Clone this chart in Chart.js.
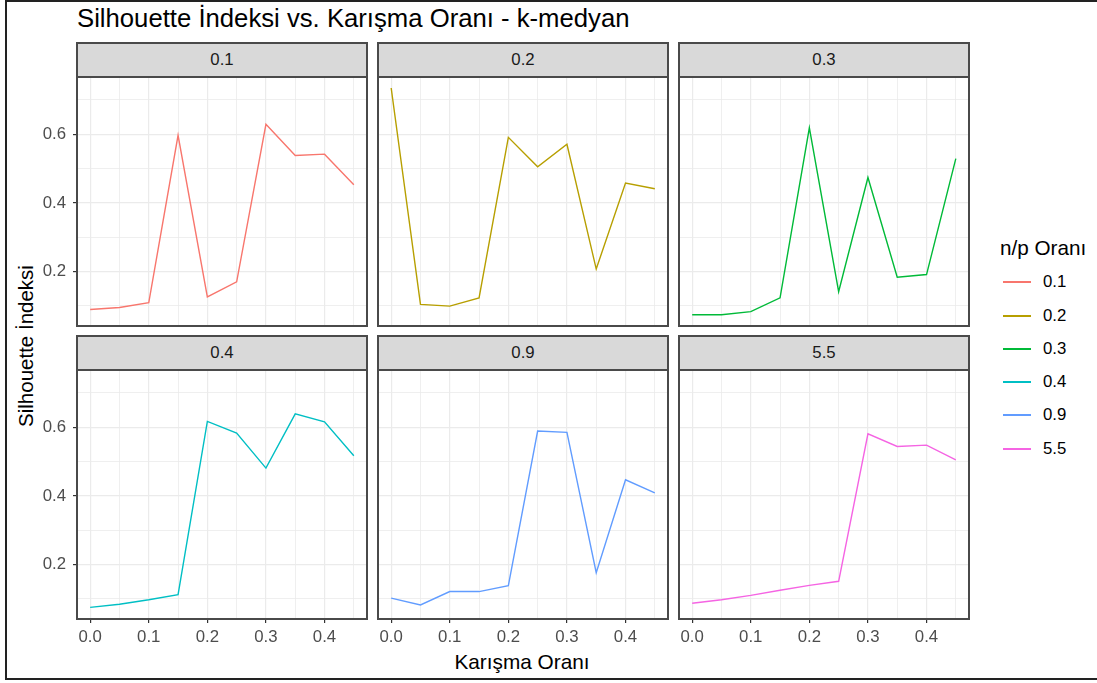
<!DOCTYPE html>
<html><head><meta charset="utf-8">
<script src="https://cdn.jsdelivr.net/npm/chart.js@4.4.1/dist/chart.umd.min.js"></script>
<style>
html,body{margin:0;padding:0;background:#fff;}
body{width:1097px;height:683px;position:relative;overflow:hidden;font-family:"Liberation Sans",Arial,sans-serif;}
.abs{position:absolute;}
.strip{position:absolute;background:#D9D9D9;border:2px solid #4a4a4a;box-sizing:border-box;display:flex;align-items:center;justify-content:center;color:#1A1A1A;font-size:16.8px;}
.frame{position:absolute;border:2px solid #4a4a4a;box-sizing:border-box;pointer-events:none;}
.txt{position:absolute;white-space:nowrap;line-height:1;}
</style></head><body>
<div class="abs" style="left:5px;top:0;width:1200px;height:680px;border:2px solid #222;box-sizing:border-box;"></div>
<div class="txt" id="title" style="left:77px;top:5.5px;font-size:25.7px;color:#000;">Silhouette İndeksi vs. Karışma Oranı - k-medyan</div>
<div class="txt" style="left:26px;top:346px;font-size:20.5px;color:#000;transform:translate(-50%,-50%) rotate(-90deg);">Silhouette İndeksi</div>
<div class="txt" style="left:522px;top:662px;font-size:20.8px;color:#000;transform:translate(-50%,-50%);">Karışma Oranı</div>
<div id="root"></div>
<script>
// n/p ratio categories (facets / legend)
const npRatios = ['0.1', '0.2', '0.3', '0.4', '0.9', '5.5'];
// x values: mixing ratio
const mixRatios = [0, 0.05, 0.1, 0.15, 0.2, 0.25, 0.3, 0.35, 0.4, 0.45];
// silhouette index per n/p ratio
const sil_01 = [0.089, 0.095, 0.109, 0.597, 0.126, 0.170, 0.629, 0.538, 0.542, 0.453];
const sil_02 = [0.735, 0.104, 0.099, 0.123, 0.591, 0.505, 0.571, 0.207, 0.458, 0.441];
const sil_03 = [0.074, 0.074, 0.083, 0.123, 0.619, 0.141, 0.474, 0.183, 0.191, 0.529];
const sil_04 = [0.075, 0.084, 0.097, 0.112, 0.617, 0.583, 0.481, 0.639, 0.616, 0.517];
const sil_09 = [0.102, 0.082, 0.121, 0.121, 0.138, 0.589, 0.585, 0.176, 0.447, 0.409];
const sil_55 = [0.087, 0.097, 0.110, 0.125, 0.139, 0.151, 0.581, 0.544, 0.548, 0.505];
// tick labels
const xMajorTicks = [0, 0.1, 0.2, 0.3, 0.4];
const xMinorTicks = [0.05, 0.15, 0.25, 0.35, 0.45];
const yMajorTicks = [0.2, 0.4, 0.6];
const yMinorTicks = [0.1, 0.3, 0.5, 0.7];

const seriesList = [sil_01, sil_02, sil_03, sil_04, sil_09, sil_55];
const colors = ['#F8766D', '#B79F00', '#00BA38', '#00BFC4', '#619CFF', '#F564E3'];

const X_MIN = -0.0225, X_MAX = 0.4725;
const Y_MIN = 0.041, Y_MAX = 0.767;
const colLeft = [77, 378, 679];
const stripTop = [43, 336];
const STRIP_H = 34, PLOT_W = 290, PLOT_H = 249;
const Y_W = 45, X_H = 36;
const FONT = '"Liberation Sans", Arial, sans-serif';

const root = document.getElementById('root');

function el(cls, style, text) {
  const d = document.createElement('div');
  d.className = cls;
  Object.assign(d.style, style);
  if (text !== undefined) d.textContent = text;
  root.appendChild(d);
  return d;
}

npRatios.forEach((cat, i) => {
  const col = i % 3, row = Math.floor(i / 3);
  const showY = col === 0, showX = row === 1;
  const plotL = colLeft[col];
  const plotT = stripTop[row] + STRIP_H;
  // strip
  el('strip', {left: (plotL - 1) + 'px', top: (stripTop[row] - 1) + 'px', width: (PLOT_W + 2) + 'px', height: (STRIP_H + 2) + 'px'}, cat);
  // canvas
  const cw = PLOT_W + (showY ? Y_W : 0);
  const ch = PLOT_H + (showX ? X_H : 0);
  const wrap = el('abs', {left: (plotL - (showY ? Y_W : 0)) + 'px', top: plotT + 'px', width: cw + 'px', height: ch + 'px'});
  const cv = document.createElement('canvas');
  cv.width = cw; cv.height = ch;
  cv.style.width = cw + 'px'; cv.style.height = ch + 'px';
  wrap.appendChild(cv);
  // frame
  el('frame', {left: (plotL - 1) + 'px', top: (plotT - 1) + 'px', width: (PLOT_W + 2) + 'px', height: (PLOT_H + 2) + 'px'});

  const xTicks = [...xMajorTicks, ...xMinorTicks].sort((a, b) => a - b);
  const yTicks = [...yMajorTicks, ...yMinorTicks].sort((a, b) => a - b);
  const isXMaj = v => xMajorTicks.includes(v);
  const isYMaj = v => yMajorTicks.includes(v);

  new Chart(cv, {
    type: 'line',
    data: {
      datasets: [{
        label: cat,
        data: mixRatios.map((x, k) => ({x: x, y: seriesList[i][k]})),
        borderColor: colors[i],
        backgroundColor: colors[i],
        borderWidth: 1.4,
        pointRadius: 0,
        tension: 0,
        fill: false
      }]
    },
    options: {
      responsive: false,
      animation: false,
      devicePixelRatio: 1,
      layout: {padding: 0},
      plugins: {legend: {display: false}, tooltip: {enabled: false}},
      scales: {
        x: {
          type: 'linear', min: X_MIN, max: X_MAX,
          afterBuildTicks: s => { s.ticks = xTicks.map(v => ({value: v})); },
          afterFit: s => { s.height = showX ? X_H : 0; s.paddingLeft = 0; s.paddingRight = 0; s.paddingTop = 0; s.paddingBottom = 0; },
          border: {display: false},
          grid: {
            color: '#EBEBEB',
            lineWidth: c => (c.tick && isXMaj(c.tick.value)) ? 1.2 : 0.8,
            drawTicks: showX, tickLength: 4, tickWidth: 1.2,
            tickColor: c => (c.tick && isXMaj(c.tick.value)) ? '#333333' : 'rgba(0,0,0,0)'
          },
          ticks: {
            display: showX, autoSkip: false, maxRotation: 0, minRotation: 0, padding: 4,
            color: '#4D4D4D', font: {family: FONT, size: 16.8},
            callback: v => isXMaj(v) ? v.toFixed(1) : ''
          }
        },
        y: {
          type: 'linear', min: Y_MIN, max: Y_MAX,
          afterBuildTicks: s => { s.ticks = yTicks.map(v => ({value: v})); },
          afterFit: s => { s.width = showY ? Y_W : 0; s.paddingLeft = 0; s.paddingRight = 0; s.paddingTop = 0; s.paddingBottom = 0; },
          border: {display: false},
          grid: {
            color: '#EBEBEB',
            lineWidth: c => (c.tick && isYMaj(c.tick.value)) ? 1.2 : 0.8,
            drawTicks: showY, tickLength: 4, tickWidth: 1.2,
            tickColor: c => (c.tick && isYMaj(c.tick.value)) ? '#333333' : 'rgba(0,0,0,0)'
          },
          ticks: {
            display: showY, autoSkip: false, padding: 7,
            color: '#4D4D4D', font: {family: FONT, size: 16.8},
            callback: v => isYMaj(v) ? v.toFixed(1) : ''
          }
        }
      }
    }
  });
});

// legend
el('txt', {left: '1000px', top: '248px', fontSize: '20.7px', color: '#000', transform: 'translateY(-50%)'}, 'n/p Oranı');
const legendY = [282, 316, 349, 382, 415, 449];
npRatios.forEach((cat, i) => {
  el('abs', {left: '1003px', top: (legendY[i] - 0.7) + 'px', width: '28px', height: '1.4px', background: colors[i]});
  el('txt', {left: '1043px', top: legendY[i] + 'px', fontSize: '16.8px', color: '#000', transform: 'translateY(-50%)'}, cat);
});
</script>
</body></html>
